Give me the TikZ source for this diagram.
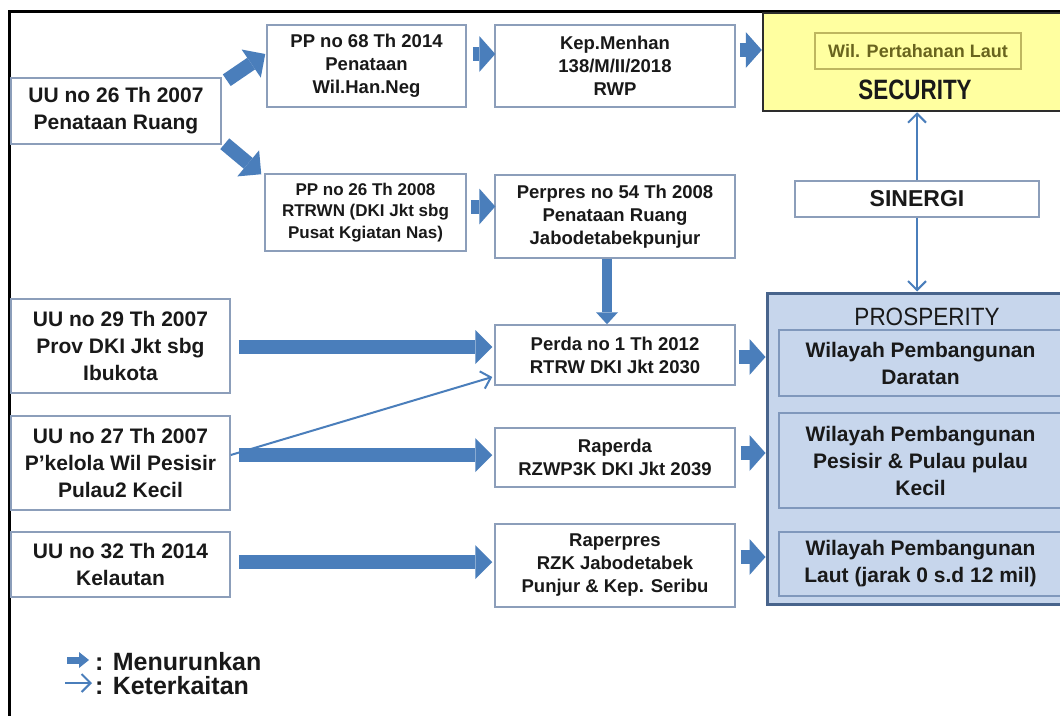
\documentclass[tikz,border=0pt]{standalone}
\usepackage{fontspec}
\setmainfont{Liberation Sans}
\newfontfamily\narrowfont[FakeStretch=0.8]{Liberation Sans}
\newfontfamily\narrowb[FakeStretch=0.9]{Liberation Sans}
\usetikzlibrary{arrows.meta,calc}
\definecolor{boxline}{RGB}{140,158,186}
\definecolor{textc}{RGB}{25,25,25}
\definecolor{arrowblue}{RGB}{74,126,187}
\definecolor{secfill}{RGB}{255,255,160}
\definecolor{secline}{RGB}{45,45,45}
\definecolor{wplline}{RGB}{190,182,95}
\definecolor{wpltext}{RGB}{105,100,30}
\definecolor{prosfill}{RGB}{199,214,236}
\definecolor{prosline}{RGB}{72,100,140}
\definecolor{wline}{RGB}{128,152,188}
\begin{document}
\begin{tikzpicture}[x=1pt,y=-1pt,
  box/.style={draw=boxline, line width=1.5pt, fill=white, align=center, inner sep=0pt, text=textc,
              font=\bfseries\fontsize{18.5}{23}\selectfont},
  big/.style={box, font=\bfseries\fontsize{21}{27}\selectfont},
  secbox/.style={draw=secline, line width=2.5pt, fill=secfill, inner sep=0pt},
  wplbox/.style={draw=wplline, line width=1.2pt, inner sep=0pt, text=wpltext, font=\bfseries\fontsize{18}{18}\selectfont},
  prosbox/.style={draw=prosline, line width=3pt, fill=prosfill, inner sep=0pt},
  wbox/.style={draw=wline, line width=1.5pt, fill=prosfill, align=center, inner sep=0pt, text=textc,
               minimum width=283pt, font=\bfseries\fontsize{21}{27}\selectfont},
  fat/.style={draw=arrowblue, line width=14pt, -{Triangle[length=17pt,width=34pt,line width=0pt]}},
  fatS/.style={draw=arrowblue, line width=14pt, -{Triangle[length=16pt,width=36pt,line width=0pt]}},
  fatV/.style={draw=arrowblue, line width=10pt, -{Triangle[length=12pt,width=22pt,line width=0pt]}},
  fatL/.style={draw=arrowblue, line width=7pt, -{Triangle[length=10pt,width=16pt,line width=0pt]}},
  thin/.style={draw=arrowblue, line width=2pt, -{Straight Barb[length=9pt,width=18pt]}},
  legend/.style={anchor=west, inner sep=0pt, text=textc, font=\bfseries\fontsize{25}{25}\selectfont}
]
\useasboundingbox (0,0) rectangle (1060,715);
\fill[white] (0,0) rectangle (1060,715);
% frame
\draw[line width=3pt, black] (9,716) -- (9,11) -- (1063,11);

% left column
\node[big, minimum width=210pt, minimum height=66pt] (uu26) at (116,111) {UU no 26 Th 2007\\Penataan Ruang};
\node[big, minimum width=219pt, minimum height=94pt] (uu29) at (120.5,346) {UU no 29 Th 2007\\Prov DKI Jkt sbg\\Ibukota};
\node[big, minimum width=219pt, minimum height=94pt] (uu27) at (120.5,463) {UU no 27 Th 2007\\P’kelola Wil Pesisir\\Pulau2 Kecil};
\node[big, minimum width=219pt, minimum height=65pt] (uu32) at (120.5,564.5) {UU no 32 Th 2014\\Kelautan};

% second column
\node[box, minimum width=199pt, minimum height=82pt] (pp68) at (366.5,66) {PP no 68 Th 2014\\Penataan\\Wil.Han.Neg};
\node[box, minimum width=201pt, minimum height=77pt, font=\bfseries\fontsize{17}{21.5}\selectfont] (pp26) at (365.5,212.5) {PP no 26 Th 2008\\RTRWN (DKI Jkt sbg\\Pusat Kgiatan Nas)};

% third column
\node[box, minimum width=240pt, minimum height=82pt] (kep) at (615,66) {Kep.Menhan\\138/M/II/2018\\RWP};
\node[box, minimum width=240pt, minimum height=83pt] (perpres) at (615,216.5) {Perpres no 54 Th 2008\\Penataan Ruang\\Jabodetabekpunjur};
\node[box, minimum width=240pt, minimum height=60pt] (perda) at (615,355) {Perda no 1 Th 2012\\RTRW DKI Jkt 2030};
\node[box, minimum width=240pt, minimum height=59pt] (raperda) at (615,457.5) {Raperda\\RZWP3K DKI Jkt 2039};
\node[box, minimum width=240pt, minimum height=83pt] (raperpres) at (615,565.5) {Raperpres\\RZK Jabodetabek\\Punjur \& Kep. Seribu};

% security
\node[secbox, minimum width=300pt, minimum height=98pt] (sec) at (913,62) {};
\node[wplbox, minimum width=206pt, minimum height=36pt] (wpl) at (918,51) {Wil. Pertahanan Laut};
\node[inner sep=0pt, text=textc, font=\narrowfont\bfseries\fontsize{28}{28}\selectfont] (secl) at (915,90) {SECURITY};

% sinergi
\node[box, minimum width=244pt, minimum height=36pt, font=\bfseries\fontsize{23}{23}\selectfont] (sin) at (917,199) {SINERGI};

% prosperity
\node[prosbox, minimum width=296pt, minimum height=311pt] (pros) at (915,448.5) {};
\node[inner sep=0pt, text=textc, font=\narrowb\fontsize{25}{25}\selectfont] (prosl) at (927,317) {PROSPERITY};
\node[wbox, minimum height=66pt] (w1) at (920.5,363) {Wilayah Pembangunan\\Daratan};
\node[wbox, minimum height=95pt] (w2) at (920.5,460.5) {Wilayah Pembangunan\\Pesisir \& Pulau pulau\\Kecil};
\node[wbox, minimum height=64pt] (w3) at (920.5,564) {Wilayah Pembangunan\\Laut (jarak 0 s.d 12 mil)};

% arrows
\draw[fat] ([xshift=5pt,yshift=-3pt]uu26.north east) -- ([xshift=-1pt,yshift=12pt]pp68.west);
\draw[fat] ([xshift=3pt,yshift=1pt]uu26.south east) -- ([xshift=-3pt,yshift=-1pt]pp26.north west);
\draw[fatS] ([xshift=6pt,yshift=12pt]pp68.east) -- ([xshift=1pt,yshift=12pt]kep.west);
\draw[fatS] ([xshift=4pt,yshift=16pt]kep.east) -- ([yshift=12pt]sec.west);
\draw[fatS] ([xshift=4pt,yshift=6pt]pp26.east) -- ([xshift=1pt,yshift=10pt]perpres.west);
\draw[fatV] ([xshift=-8pt]perpres.south) -- ([xshift=-8pt]perda.north);
\draw[thin] ([yshift=8pt]uu27.east) -- ([xshift=-2pt,yshift=-22pt]perda.west);
\draw[fat] ([xshift=8pt,yshift=-1pt]uu29.east) -- ([xshift=-2pt,yshift=8pt]perda.west);
\draw[fat] ([xshift=8pt,yshift=8pt]uu27.east) -- ([xshift=-2pt,yshift=2.5pt]raperda.west);
\draw[fat] ([xshift=8pt,yshift=2.5pt]uu32.east) -- ([xshift=-2pt,yshift=3.5pt]raperpres.west);
\draw[fatS] ($(perda.east)+(3,2)$) -- ($(perda.east -| pros.west)+(0,2)$);
\draw[fatS] ($(raperda.east)+(5,-4.5)$) -- ($(raperda.east -| pros.west)+(0,-4.5)$);
\draw[fatS] ($(raperpres.east)+(5,-8.5)$) -- ($(raperpres.east -| pros.west)+(0,-8.5)$);
\draw[thin] (sin.north) -- (sin.north |- sec.south);
\draw[thin] (sin.south) -- (sin.south |- pros.north);

% legend
\node[legend] (lg1) at (95,662) {: Menurunkan};
\node[legend] (lg2) at (95,686) {: Keterkaitan};
\coordinate (lf) at (67,660);
\coordinate (lt) at (65,683);
\draw[fatL] (lf) -- ($(lg1.west)+(-6,-2)$);
\draw[thin] (lt) -- ($(lg2.west)+(-3,-3)$);
\end{tikzpicture}
\end{document}
